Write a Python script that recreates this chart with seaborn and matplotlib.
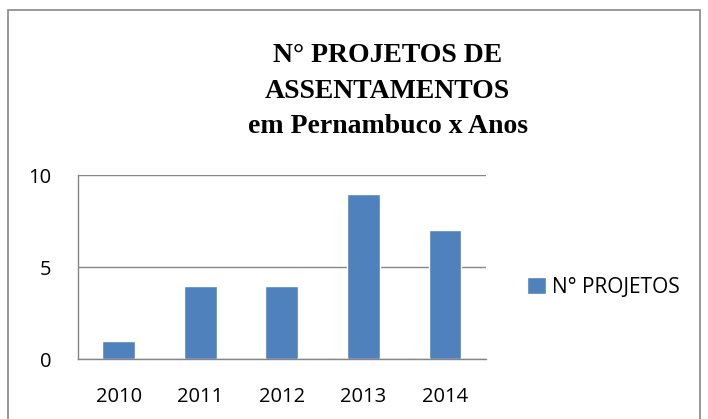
import pandas as pd
import matplotlib.pyplot as plt
import seaborn as sns
from matplotlib.patches import Rectangle

# Chart data
anos = ["2010", "2011", "2012", "2013", "2014"]
projetos = [1, 4, 4, 9, 7]
serie = "N° PROJETOS"

df = pd.DataFrame({"Ano": anos, "Projetos": projetos})

sns.set_style("white")
plt.rcParams["font.family"] = ["Open Sans", "DejaVu Sans"]
plt.rcParams["text.color"] = "black"
plt.rcParams["xtick.labelcolor"] = "black"
plt.rcParams["ytick.labelcolor"] = "black"

fig = plt.figure(figsize=(7.08, 4.19), dpi=100)
ax = fig.add_axes([0.110, 0.143, 0.576, 0.439])

sns.barplot(data=df, x="Ano", y="Projetos", color="#4F81BD", width=0.4,
            saturation=1, ax=ax, label=serie)

gray = "#868686"
ax.set_ylim(0, 10)
ax.set_xlim(-0.5, len(anos) - 0.5)
ax.set_yticks([0, 5, 10])
ax.yaxis.grid(True, color=gray, linewidth=1)
ax.set_axisbelow(True)
ax.set_xlabel("")
ax.set_ylabel("")

for s in ["top", "right"]:
    ax.spines[s].set_visible(False)
for s in ["left", "bottom"]:
    ax.spines[s].set_color(gray)
    ax.spines[s].set_linewidth(1)

# category boundary ticks on x
ax.set_xticks([i - 0.5 for i in range(len(anos) + 1)], minor=True)
ax.tick_params(axis="x", which="minor", length=6, color=gray, width=1, direction="out")
ax.tick_params(axis="x", which="major", length=0, pad=20, labelsize=14.5)
ax.tick_params(axis="y", which="major", length=7, color=gray, width=1, direction="out",
               pad=12, labelsize=14.5)

fig.text(0.5475, 0.782, "N° PROJETOS DE\nASSENTAMENTOS\nem Pernambuco x Anos",
         ha="center", va="center", family=["Liberation Serif"], fontweight="bold",
         fontsize=20, linespacing=1.55, color="black")

leg = ax.legend(loc="center left", bbox_to_anchor=(1.055, 0.39), frameon=False,
                fontsize=15, handlelength=0.9, handleheight=0.9, handletextpad=0.3)

# outer chart border
fig.patches.append(Rectangle((8 / 708, -0.05), 692 / 708, 1.05 - 10 / 419,
                             transform=fig.transFigure, fill=False,
                             edgecolor="#878787", linewidth=1.2))

fig.savefig("out.png", dpi=100)
